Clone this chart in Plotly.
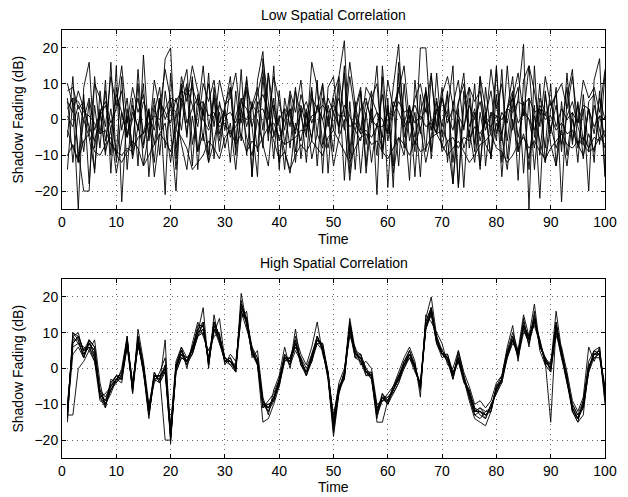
import plotly.graph_objects as go
from plotly.subplots import make_subplots

# Low spatial correlation: shadow fading (dB) of 10 links, t = 1..100
low_1 = [10, 4, -25, 9, 16, -8, 3, -10, 16, -12, 2, -5, 6, -13, 18, -6, 4, -3, 17, 20,
         -11, 8, 14, -7, 2, 15, -2, 6, -9, 3, 12, -6, 5, 8, -16, 11, 19, -4, 6, -12,
         3, -8, 8, 1, -5, 16, 9, -7, 4, -3, 12, 22, -9, 5, -15, 2, 8, -21, 15, -4,
         9, 21, -5, 3, -9, 20, 20, -3, 6, -8, 2, 15, -19, 4, 9, -7, 12, 3, -11, 14,
         -6, 15, -3, 6, 21, -25, 15, -10, 7, -4, 9, -23, 6, 14, -8, 3, -20, 11, 17, -16]
low_2 = [-14, 6, -9, -20, -20, 12, -4, 8, -10, 15, -23, 3, -8, 10, -13, -4, 6, -10, 8, -3,
         -20, 10, -5, 12, -14, 5, -10, 9, -4, 2, -12, 8, -6, 12, -3, -16, 17, 5, -11, 8,
         -7, 3, -12, 4, -2, 9, -13, 6, 2, -9, 10, -17, 5, -14, 8, -15, 1, 15, -11, 6,
         -19, 13, -8, 4, -16, 7, -9, 12, -2, 9, -12, 5, -19, 8, -5, 10, -13, 2, -11, 7,
         -16, 3, 12, -9, 5, -14, 4, -22, 8, -7, -13, -2, 9, -7, 5, -6, 3, -12, 8, -16]
low_3 = [5, 2, 8, 3, -2, -6, 1, 4, -3, 7, 2, -5, 0, 6, -4, 3, -7, 5, 2, -1,
         6, -3, 9, 4, -2, 10, 5, 11, -1, 3, -5, 1, 6, -2, 4, 9, -3, 13, 2, -6,
         0, 3, -4, 7, 1, -5, 4, 0, -8, 2, 6, -3, 12, 1, -4, 5, 0, -2, 7, -6,
         3, 9, -1, 4, -5, 2, 8, 0, -4, 6, 1, -3, 5, 10, -2, 3, -6, 1, 8, -4,
         2, -1, 7, -5, 3, 0, -8, 6, 2, -3, 4, -7, 1, 5, -2, -7, 3, -4, 6, 0]
low_4 = [3, 6, 5, 2, 1, -1, -4, -3, -7, -9, -10, -8, -9, -5, -4, -1, 1, 0, 3, 6,
         5, 8, 7, 9, 4, 5, 1, 2, -2, -1, -4, -2, 1, 0, 4, 2, 3, -2, -1, -5,
         -7, -6, -5, -3, -3, 1, 2, 4, 2, 4, 1, 1, -2, -1, -4, -3, -5, -2, -2, 2,
         1, 5, 2, 3, -1, 1, -2, -1, -4, -3, -6, -5, -8, -5, -6, -2, -4, -1, -2, 1,
         0, 3, 2, 5, 4, 6, 2, 3, 0, 1, -3, -1, -4, -3, -7, -5, -8, -5, -6, -3]
low_5 = [-10, -7, -12, 0, -5, -14, 2, -9, -3, -15, -6, 1, -11, -2, -8, 3, -16, -4, -1, -12,
         2, -7, -14, 1, -9, -4, -12, -6, 2, -8, -1, -14, 3, -5, -10, 0, -7, -13, 4, -2,
         -9, -15, -1, -6, 2, -11, -4, -8, 1, -13, -5, 0, -17, -3, -6, 2, -12, -1, -9, 3,
         -15, -5, -10, 1, -7, -2, -12, -4, 3, -9, -6, -18, 0, -8, -3, -12, 2, -7, -10, -1,
         -5, -14, 0, -9, -4, -11, 1, -6, -12, -2, -8, -3, -13, 0, -7, -10, -4, -9, 1, -5]
low_6 = [8, 9, 3, 5, -4, 10, 6, -2, 12, 4, 15, -1, 9, 2, 7, -5, 11, 3, 14, 6,
         -3, 12, 5, 15, 8, 1, 10, -2, 11, 4, 6, 13, -1, 9, 3, 7, 14, 0, 12, 5,
         -3, 8, 2, 11, -4, 6, 3, 10, -2, 7, 12, 1, 16, 4, -3, 9, 6, 2, -5, 11,
         3, 8, 15, -1, 6, 10, 2, 13, -4, 7, 12, 4, 11, -3, 9, 5, 8, -1, 14, 3,
         10, -6, 6, 13, 1, 15, 8, -2, 12, 4, 7, 10, 3, 12, -1, 11, 6, 9, 2, 14]
low_7 = [-3, -8, -11, -6, -4, -9, -10, -7, -5, -10, -12, -9, -6, -8, -13, -10, -7, -4, -6, -9,
         -3, -5, -8, -14, -12, -10, -6, -8, -11, -5, -3, -7, -4, -9, -6, -8, -5, -2, -6, -11,
         -9, -14, -10, -7, -9, -6, -8, -10, -5, -3, -6, -9, -12, -8, -5, -4, -7, -6, -9, -11,
         -8, -5, -7, -10, -6, -9, -8, -5, -4, -7, -10, -8, -6, -9, -12, -10, -7, -6, -4, -8,
         -9, -12, -10, -7, -5, -8, -6, -9, -11, -8, -6, -4, -7, -8, -6, -7, -9, -8, -5, -7]
low_8 = [-5, 12, -12, 7, -18, 4, -8, 11, -15, 9, -3, 6, -10, 14, -7, 2, -12, 6, -21, 13,
         -8, 4, 10, -13, 7, -6, 13, -11, 5, -3, 9, -8, 14, -10, 5, -9, 12, -6, 15, -14,
         6, -2, 9, -11, 3, -6, 11, -15, 9, 12, -4, 15, -11, 3, 9, -13, 6, 10, -8, 4,
         -13, 16, 1, -17, 11, -4, 8, -9, 13, -5, 7, -12, 4, 13, -8, 2, -14, 9, -4, 15,
         -12, 3, 8, -17, 11, 15, -5, 10, -12, 3, 7, -9, 13, -6, 4, -11, 5, 7, -7, 13]
low_9 = [1, -2, 4, 0, 6, -3, 2, 5, -1, 3, 8, -4, 2, -2, 5, 1, -3, 6, 0, 4,
         2, 9, -1, 3, 6, 0, -3, 1, 4, 1, 2, -1, 5, 3, -2, 4, 7, 2, -4, 0,
         3, 1, -3, 2, 5, -1, 3, 0, 6, 2, -2, 4, 1, -3, 3, 6, -1, 2, 0, -4,
         5, 2, -2, 1, 4, 0, 3, -3, 2, 6, -1, 3, 1, -2, 4, 0, 5, -3, 2, 1,
         -4, 3, 6, -1, 2, 0, -3, 4, 1, 5, -2, 3, 0, 2, -1, 4, 3, -2, 1, 0]
low_10 = [6, -12, 2, -9, 5, -15, 8, -6, 3, -10, 12, -14, 4, -3, 10, -16, 2, 9, -8, 5,
          -14, 6, -4, 11, -9, 3, -12, 7, -6, 4, 9, -10, 2, 11, -16, 5, -8, 13, -5, 1,
          -14, 7, -9, 3, -12, 8, -4, 10, -15, 6, -2, 13, -15, 2, 8, -7, 3, -10, 12, -19,
          4, -13, 10, -6, 2, -16, 9, -11, 5, -2, 8, -18, 3, -19, 6, -9, 12, -13, 2, -6,
          14, -11, 4, 9, -15, 6, -14, 3, -8, 10, -13, 5, -10, 2, -12, 7, -9, 4, -3, -8]

# High spatial correlation: shadow fading (dB) of 10 links, t = 1..100
high_1 = [-13, 10, 9, 5, 7, 5, -8, -10, -6, -3, -3, 8, -6, 9, 1, -13, -2, -3, 1, -19,
          0, 5, 1, 6, 11, 13, 1, 13, 9, 3, 2, 0, 18, 14, 5, 2, -10, -12, -9, -4,
          3, 2, 8, 2, -1, 3, 9, 6, -2, -17, -6, -2, 13, 4, 3, -1, -2, -13, -8, -9,
          -6, -3, 1, 4, 0, -5, 13, 17, 8, 4, 3, -2, 3, -3, -7, -12, -12, -13, -11, -6,
          -3, 4, 9, 4, 13, 8, 15, 7, 2, 0, 13, 4, -3, -11, -14, -10, 0, 4, 5, -7]
high_2 = [-15, 10, 8, 3, 8, 6, -8, -11, -4, -2, -2, 9, -7, 7, -1, -14, -1, -4, 8, -21,
          1, 6, 3, 4, 10, 17, 0, 15, 7, 2, 3, -1, 21, 12, 4, 1, -11, -9, -7, -3,
          4, 1, 11, 1, -2, 2, 7, 5, -3, -19, -7, -1, 14, 5, 4, 0, -3, -14, -7, -10,
          -5, -2, 2, 5, 1, -6, 14, 20, 9, 5, 2, -3, 5, -2, -8, -13, -14, -12, -12, -5,
          -2, 5, 10, 5, 15, 9, 18, 6, 3, 1, 16, 5, -2, -12, -15, -9, 2, 5, 6, -8]
high_3 = [-13, -13, 0, 2, 5, 2, -6, -10, -7, -3, -1, 8, -4, 6, 1, -12, -3, -2, -1, -20,
          -1, 3, 2, 6, 9, 11, 3, 11, 8, 2, 1, 1, 16, 11, 6, 3, -9, -12, -8, -5,
          2, 3, 6, 3, 0, 4, 8, 7, -1, -15, -5, -3, 11, 3, 2, -2, -1, -11, -9, -8,
          -7, -4, 0, 3, -1, -4, 11, 15, 7, 3, 4, -1, 2, -4, -6, -11, -13, -14, -10, -7,
          -4, 3, 7, 5, 11, 7, 13, 8, 1, -1, 10, 3, -4, -10, -13, -11, -1, 3, 3, -6]
high_4 = [-12, 4, 6, 3, 8, 6, -6, -8, -5, -2, -3, 8, -5, 7, 0, -13, -2, -2, -20, -20,
          0, 4, 1, 4, 9, 10, 3, 10, 14, 2, 2, -1, 15, 14, 6, 1, -15, -14, -10, -5,
          3, 1, 5, 2, -2, 4, 9, 5, -2, -13, -5, -2, 10, 3, 4, -2, -2, -15, -15, -9,
          -5, -3, 2, 4, 1, -6, 12, 15, 9, 4, 2, -1, 2, -3, -9, -14, -15, -16, -12, -5,
          -4, 4, 9, 3, 10, 9, 12, 7, 3, -1, 11, 3, -2, -12, -15, -13, 1, 3, 4, -5]
high_5 = [-11, 7, 9, 5, 6, 3, -7, -9, -6, -4, -2, 6, -6, 8, -1, -11, -1, -4, 0, -17,
          1, 5, 2, 5, 12, 12, 1, 12, 8, 3, 2, 0, 17, 13, 4, 2, -10, -10, -9, -3,
          3, 2, 7, 1, -1, 2, 8, 6, -3, -16, -6, -1, 12, 5, 2, -1, -3, -12, -8, -10,
          -6, -2, 1, 5, 0, -5, 11, 17, 8, 5, 3, -2, 4, -3, -7, -11, -12, -13, -11, -6,
          -3, 4, 8, 4, 12, 8, 14, 7, 2, -15, 12, 4, -3, -11, -14, -10, 0, 5, 4, -7]
high_6 = [-10, 6, 7, 4, 7, 4, -8, -7, -5, -3, -4, 7, -5, 9, 0, -12, -2, -3, 1, -18,
          0, 4, 3, 5, 10, 12, 2, 13, 9, 2, 3, 0, 18, 13, 5, 3, -10, -11, -8, -4,
          2, 3, 7, 2, -1, 3, 8, 6, -2, -16, -7, -2, 12, 4, 3, 0, -2, -12, -7, -9,
          -6, -3, 1, 4, 0, -5, 12, 16, 8, 4, 3, -3, 3, -3, -7, -12, -11, -13, -12, -6,
          -3, 4, 8, 4, 12, 8, 14, 7, 2, 1, 12, 4, -3, -11, -14, -10, 0, 4, 4, -7]
high_7 = [-14, 9, 7, 6, 5, 8, -4, -11, -3, -4, 0, 9, -7, 11, 2, -10, -4, -1, 3, -16,
          2, 6, 0, 7, 13, 9, 5, 9, 10, 1, 4, 2, 14, 16, 3, 5, -8, -13, -6, -2,
          6, 0, 9, 4, 1, 6, 13, 4, -1, -14, -4, 0, 9, 6, 1, 2, 0, -10, -9, -7,
          -5, -1, 3, 6, 2, -8, 15, 13, 10, 7, 1, 0, 5, -1, -5, -10, -9, -11, -9, -4,
          -2, 6, 12, 2, 14, 6, 16, 5, 1, 2, 9, 6, -1, -9, -12, -8, 6, 2, 6, -9]
high_8 = [-12, 9, 10, 4, 6, 2, -9, -10, -6, -3, -2, 7, -4, 7, 0, -13, -3, -4, -1, -19,
          -1, 3, 2, 4, 9, 13, 1, 11, 7, 3, 1, -1, 19, 12, 5, 2, -11, -10, -9, -4,
          3, 2, 6, 3, -2, 3, 7, 7, -2, -18, -6, -3, 13, 3, 3, -1, -2, -11, -8, -10,
          -7, -4, 1, 3, 0, -4, 13, 17, 7, 4, 4, -2, 2, -3, -8, -13, -12, -14, -10, -7,
          -3, 3, 8, 5, 12, 9, 14, 8, 2, 0, 13, 4, -4, -12, -14, -11, -1, 5, 4, -6]
high_9 = [-13, 8, 8, 3, 7, 5, -7, -9, -4, -2, -3, 6, -5, 8, 1, -12, -2, -2, 0, -19,
          0, 5, 2, 5, 11, 12, 2, 12, 8, 2, 2, 1, 17, 14, 5, 1, -10, -11, -8, -4,
          4, 2, 7, 2, -1, 3, 8, 6, -1, -16, -6, -2, 12, 4, 3, -1, -1, -13, -9, -9,
          -6, -3, 1, 4, 0, -5, 12, 16, 8, 4, 3, -2, 3, -2, -7, -12, -12, -13, -11, -6,
          -3, 4, 8, 3, 12, 8, 13, 7, 2, 0, 12, 4, -3, -11, -14, -10, 0, 4, 4, -7]
high_10 = [-11, 7, 9, 5, 8, 3, -7, -10, -5, -3, -1, 8, -6, 7, 0, -11, -2, -3, 0, -18,
           1, 4, 2, 6, 10, 11, 2, 13, 9, 3, 2, 0, 16, 13, 4, 2, -9, -11, -8, -3,
           3, 3, 8, 1, -1, 2, 9, 5, -2, -15, -6, -1, 12, 4, 4, -1, -2, -12, -8, -8,
           -6, -2, 0, 4, 1, -5, 11, 16, 7, 4, 3, -2, 3, -3, -6, -12, -11, -12, -11, -5,
           -3, 5, 8, 4, 11, 7, 14, 6, 3, 0, 11, 5, -3, -10, -13, -9, 0, 4, 5, -10]

low_series = [low_1, low_2, low_3, low_4, low_5, low_6, low_7, low_8, low_9, low_10]
high_series = [high_1, high_2, high_3, high_4, high_5, high_6, high_7, high_8, high_9, high_10]
time = list(range(1, 101))

FONT = "Liberation Sans, Arial, Helvetica, sans-serif"

fig = make_subplots(rows=2, cols=1)

for row, group in [(1, low_series), (2, high_series)]:
    for ys in group:
        fig.add_trace(
            go.Scatter(x=time, y=ys, mode="lines",
                       line=dict(color="black", width=0.9),
                       showlegend=False, hoverinfo="skip"),
            row=row, col=1,
        )

axis_style = dict(
    showline=True, linecolor="black", linewidth=1, mirror="ticks",
    ticks="inside", ticklen=4, tickcolor="black",
    showgrid=True, gridcolor="rgba(0,0,0,0.6)", griddash="1px,4px", gridwidth=1,
    zeroline=False, tickfont=dict(family=FONT, size=14, color="black"),
)
fig.update_xaxes(range=[0, 100], dtick=10, tick0=0, **axis_style)
fig.update_yaxes(range=[-25, 25], dtick=10, tick0=0, **axis_style)

# the page body has an 8px margin, so the figure is shrunk by that much
fig.update_layout(
    width=620, height=489,
    margin=dict(l=54, r=23, t=22, b=39),
    paper_bgcolor="white", plot_bgcolor="white",
    font=dict(family=FONT, size=14, color="black"),
    yaxis=dict(domain=[0.5818, 1.0]),
    yaxis2=dict(domain=[0.0, 0.4182]),
)

# Titles and axis labels placed like the MATLAB figure
labels = [
    ("Low Spatial Correlation", 0.5, 1.035, 0),
    ("High Spatial Correlation", 0.5, 0.4556, 0),
    ("Time", 0.5, 0.5117, 0),
    ("Time", 0.5, -0.0678, 0),
    ("Shadow Fading (dB)", -0.081, 0.791, -90),
    ("Shadow Fading (dB)", -0.081, 0.209, -90),
]
for text, x, y, angle in labels:
    fig.add_annotation(text=text, x=x, y=y, xref="paper", yref="paper",
                       xanchor="center", yanchor="middle", showarrow=False,
                       textangle=angle, font=dict(family=FONT, size=14, color="black"))

fig.write_html("out.html")
